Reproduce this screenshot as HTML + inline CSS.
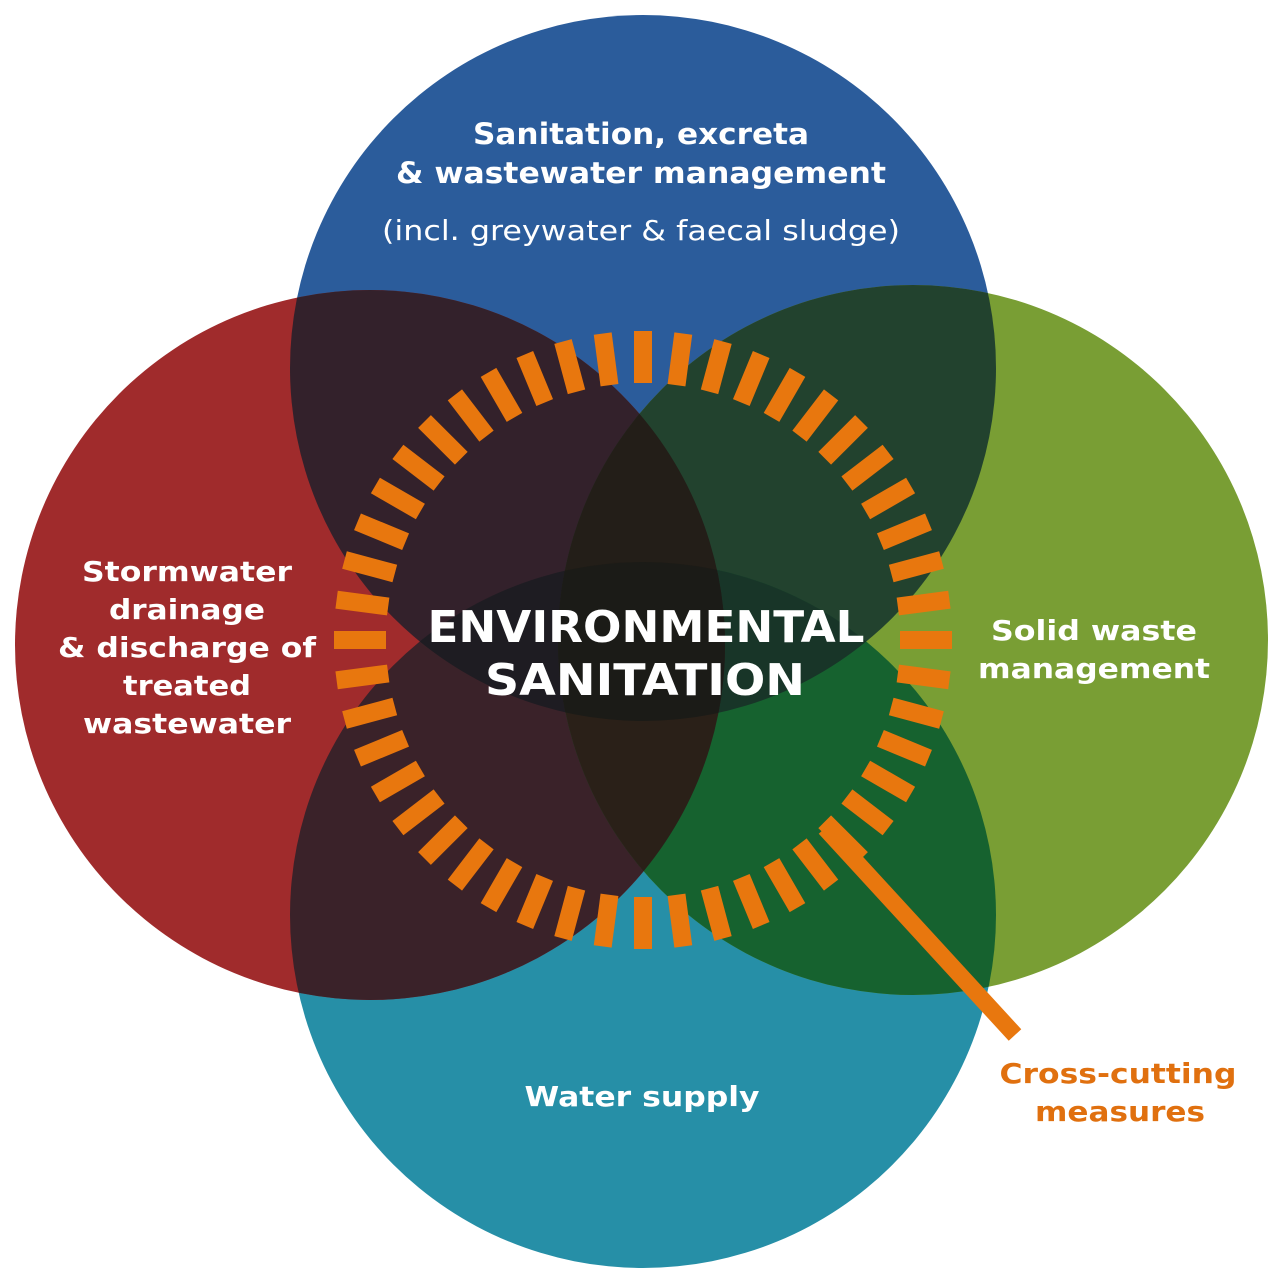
<!DOCTYPE html>
<html><head><meta charset="utf-8"><style>
html,body{margin:0;padding:0;background:#fff;width:1280px;height:1280px;overflow:hidden}
svg{display:block}
text{font-family:"DejaVu Sans","Liberation Sans",sans-serif;font-weight:bold;fill:#fff;text-anchor:middle}
</style></head><body>
<svg width="1280" height="1280" viewBox="0 0 1280 1280" xmlns="http://www.w3.org/2000/svg">
<defs>
<clipPath id="cT"><circle cx="643" cy="368" r="353"/></clipPath>
<clipPath id="cB"><circle cx="643" cy="915" r="353"/></clipPath>
<clipPath id="cL"><circle cx="370" cy="645" r="355"/></clipPath>
<clipPath id="cR"><circle cx="913" cy="640" r="355"/></clipPath>
</defs>
<rect width="1280" height="1280" fill="#fff"/>
<circle cx="643" cy="915" r="353" fill="#268fa7"/>
<circle cx="643" cy="368" r="353" fill="#2b5c9b"/>
<circle cx="370" cy="645" r="355" fill="#a02b2c"/>
<circle cx="913" cy="640" r="355" fill="#799e34"/>
<g clip-path="url(#cT)"><circle cx="370" cy="645" r="355" fill="#33212b"/><circle cx="913" cy="640" r="355" fill="#22422e"/><circle cx="643" cy="915" r="353" fill="#1c2e31"/></g>
<g clip-path="url(#cB)"><circle cx="370" cy="645" r="355" fill="#3a2229"/><circle cx="913" cy="640" r="355" fill="#16622f"/></g>
<g clip-path="url(#cT)"><g clip-path="url(#cB)"><circle cx="370" cy="645" r="355" fill="#1e1c22"/><circle cx="913" cy="640" r="355" fill="#183528"/></g></g>
<g clip-path="url(#cL)"><g clip-path="url(#cR)"><circle cx="643" cy="368" r="353" fill="#231e18"/><circle cx="643" cy="915" r="353" fill="#2a2018"/></g></g>
<g clip-path="url(#cL)"><g clip-path="url(#cR)"><g clip-path="url(#cT)"><circle cx="643" cy="915" r="353" fill="#1b1b17"/></g></g></g>
<g id="ring" stroke="#e8770e" stroke-width="18" fill="none">
</g>
<line x1="825" y1="828" x2="1015" y2="1035" stroke="#e8770e" stroke-width="17"/>
<text x="641" y="144" font-size="29" textLength="336" lengthAdjust="spacingAndGlyphs">Sanitation, excreta</text>
<text x="641" y="183" font-size="29" textLength="490" lengthAdjust="spacingAndGlyphs">&amp; wastewater management</text>
<text x="641" y="240" font-size="28" style="font-weight:normal" textLength="518" lengthAdjust="spacingAndGlyphs">(incl. greywater &amp; faecal sludge)</text>
<text x="646" y="642" font-size="44" textLength="437" lengthAdjust="spacingAndGlyphs">ENVIRONMENTAL</text>
<text x="645" y="695" font-size="44" textLength="320" lengthAdjust="spacingAndGlyphs">SANITATION</text>
<g font-size="28">
<text x="187" y="581" textLength="210" lengthAdjust="spacingAndGlyphs">Stormwater</text>
<text x="187" y="619" textLength="156" lengthAdjust="spacingAndGlyphs">drainage</text>
<text x="187" y="657" textLength="258" lengthAdjust="spacingAndGlyphs">&amp; discharge of</text>
<text x="187" y="695" textLength="128" lengthAdjust="spacingAndGlyphs">treated</text>
<text x="187" y="733" textLength="208" lengthAdjust="spacingAndGlyphs">wastewater</text>
<text x="1094" y="640" textLength="206" lengthAdjust="spacingAndGlyphs">Solid waste</text>
<text x="1094" y="678" textLength="232" lengthAdjust="spacingAndGlyphs">management</text>
<text x="642" y="1106" textLength="235" lengthAdjust="spacingAndGlyphs">Water supply</text>
<text x="1118" y="1083" style="fill:#e0700f" textLength="237" lengthAdjust="spacingAndGlyphs">Cross-cutting</text>
<text x="1120" y="1121" style="fill:#e0700f" textLength="170" lengthAdjust="spacingAndGlyphs">measures</text>
</g>
</svg>
<script>
var g=document.getElementById('ring'),cx=643,cy=640,r1=257,r2=309,s='';
for(var i=0;i<48;i++){var a=i*Math.PI*2/48;var c=Math.cos(a),n=Math.sin(a);
s+='<line x1="'+(cx+r1*c).toFixed(1)+'" y1="'+(cy+r1*n).toFixed(1)+'" x2="'+(cx+r2*c).toFixed(1)+'" y2="'+(cy+r2*n).toFixed(1)+'"/>';}
g.innerHTML=s;
</script>
</body></html>
